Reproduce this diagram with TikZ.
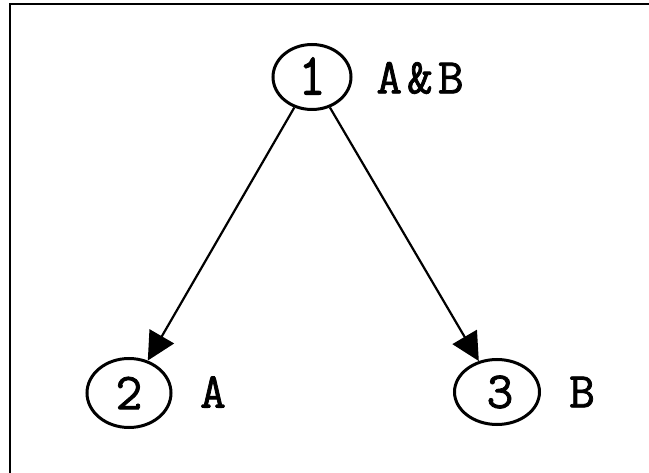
\documentclass[tikz,border=0pt]{standalone}
\usepackage{fontspec}
\newfontfamily\typefont{Latin Modern Mono}[FakeBold=1.5]
\newfontfamily\typefontwide{Latin Modern Mono}[FakeBold=1.5,LetterSpace=10]
\usetikzlibrary{shapes.geometric,arrows.meta}
\begin{document}
\begin{tikzpicture}[x=1pt,y=-1pt,
  statenode/.style={draw,ellipse,line width=3pt,inner sep=0pt,
    font=\typefont\fontsize{52pt}{52pt}\selectfont},
  setlabel/.style={inner sep=0pt,
    font=\typefontwide\fontsize{50pt}{50pt}\selectfont},
  edge/.style={line width=2.2pt,-{Triangle[length=28pt,width=28pt]}},
  frameline/.style={line width=2.4pt}]
  \useasboundingbox (0,0) rectangle (649,473);
  % open frame: top and left sides only
  \draw[frameline] (10,473) -- (10,4) -- (649,4);
  % state nodes
  \node[statenode,minimum width=78pt,minimum height=65pt] (n1) at (312,77) {\raisebox{2pt}{\scalebox{1}[1.15]{1}}};
  \node[statenode,minimum width=84pt,minimum height=69pt] (n2) at (129,393) {2};
  \node[statenode,minimum width=85pt,minimum height=65pt] (n3) at (497,392) {\hspace{6pt}3};
  % set labels
  \node[setlabel] (l1) at (420,78) {A\&B};
  \node[setlabel] (l2) at (213,392) {A};
  \node[setlabel] (l3) at (582,392) {B};
  % edges
  \draw[edge] (n1) -- (n2);
  \draw[edge] (n1) -- (n3);
\end{tikzpicture}
\end{document}
